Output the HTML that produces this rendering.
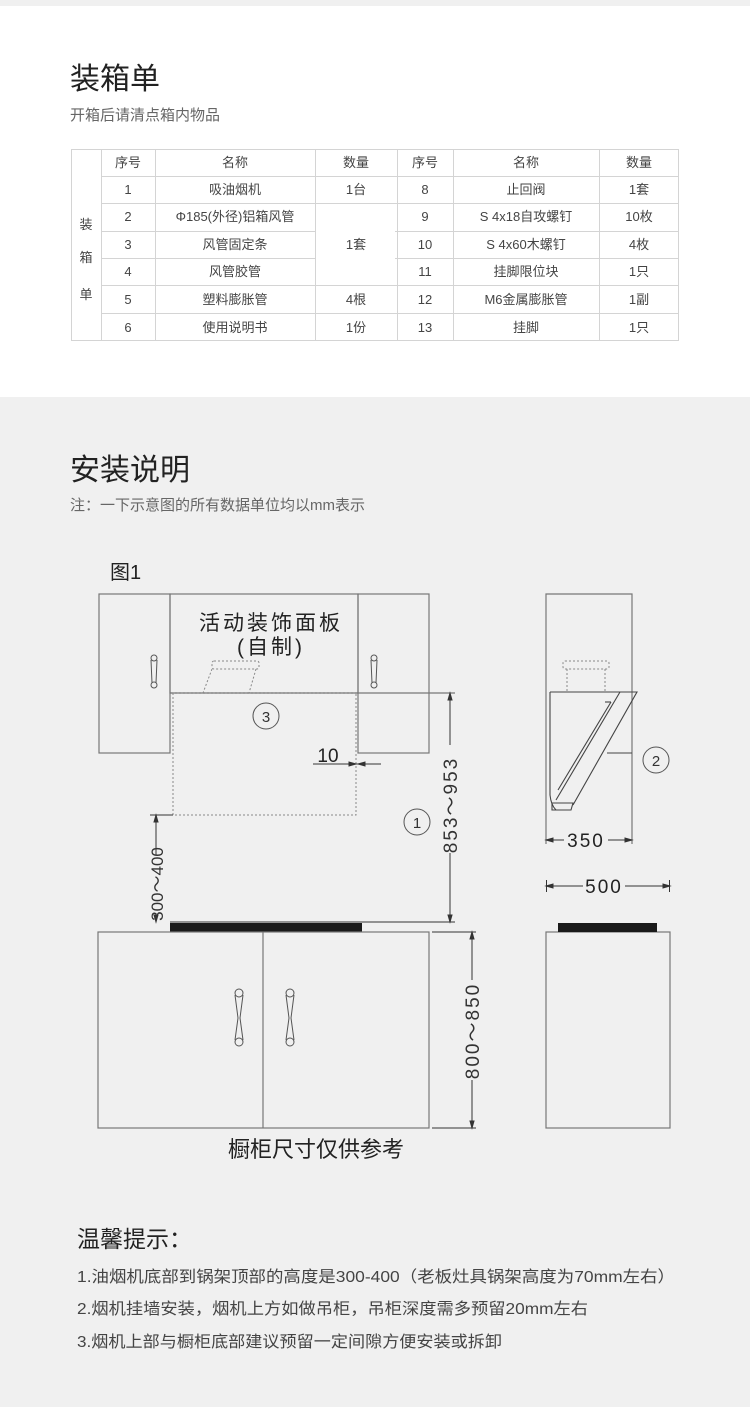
<!DOCTYPE html>
<html><head><meta charset="utf-8"><style>
html,body{margin:0;padding:0;background:#f0f0f0}
svg{display:block}
text{font-family:"Liberation Sans","Noto Sans CJK SC",sans-serif}
</style></head><body>
<svg width="750" height="1407" viewBox="0 0 750 1407" xmlns="http://www.w3.org/2000/svg">
<rect x="0" y="0" width="750" height="1407" fill="#f0f0f0"/>
<rect x="0" y="6" width="750" height="391" fill="#ffffff"/>

<text x="70" y="89" font-size="30" fill="#222">装箱单</text>
<text x="70" y="120" font-size="15" fill="#666">开箱后请清点箱内物品</text>

<g stroke="#d4d4d4" stroke-width="1" fill="none">
<line x1="71" y1="149.5" x2="679" y2="149.5"/>
<line x1="71" y1="340.5" x2="679" y2="340.5"/>
<line x1="101" y1="176.5" x2="679" y2="176.5"/>
<line x1="101" y1="203.5" x2="679" y2="203.5"/>
<line x1="101" y1="231.5" x2="315" y2="231.5"/>
<line x1="395" y1="231.5" x2="679" y2="231.5"/>
<line x1="101" y1="258.5" x2="315" y2="258.5"/>
<line x1="395" y1="258.5" x2="679" y2="258.5"/>
<line x1="101" y1="285.5" x2="679" y2="285.5"/>
<line x1="101" y1="313.5" x2="679" y2="313.5"/>
<line x1="71.5" y1="149" x2="71.5" y2="340"/>
<line x1="101.5" y1="149" x2="101.5" y2="340"/>
<line x1="155.5" y1="149" x2="155.5" y2="340"/>
<line x1="315.5" y1="149" x2="315.5" y2="340"/>
<line x1="397.5" y1="149" x2="397.5" y2="340"/>
<line x1="453.5" y1="149" x2="453.5" y2="340"/>
<line x1="599.5" y1="149" x2="599.5" y2="340"/>
<line x1="678.5" y1="149" x2="678.5" y2="340"/>
</g>
<g font-size="13" fill="#444" text-anchor="middle">
<text x="86" y="229">装</text><text x="86" y="262">箱</text><text x="86" y="299">单</text>
<text x="128" y="167">序号</text><text x="235" y="167">名称</text><text x="356" y="167">数量</text>
<text x="425" y="167">序号</text><text x="526" y="167">名称</text><text x="639" y="167">数量</text>
<text x="128" y="194">1</text><text x="235" y="194">吸油烟机</text><text x="356" y="194">1台</text>
<text x="425" y="194">8</text><text x="526" y="194">止回阀</text><text x="639" y="194">1套</text>
<text x="128" y="221">2</text><text x="235" y="221">Φ185(外径)铝箱风管</text>
<text x="425" y="221">9</text><text x="526" y="221">S 4x18自攻螺钉</text><text x="639" y="221">10枚</text>
<text x="128" y="249">3</text><text x="235" y="249">风管固定条</text><text x="356" y="249">1套</text>
<text x="425" y="249">10</text><text x="526" y="249">S 4x60木螺钉</text><text x="639" y="249">4枚</text>
<text x="128" y="276">4</text><text x="235" y="276">风管胶管</text>
<text x="425" y="276">11</text><text x="526" y="276">挂脚限位块</text><text x="639" y="276">1只</text>
<text x="128" y="304">5</text><text x="235" y="304">塑料膨胀管</text><text x="356" y="304">4根</text>
<text x="425" y="304">12</text><text x="526" y="304">M6金属膨胀管</text><text x="639" y="304">1副</text>
<text x="128" y="332">6</text><text x="235" y="332">使用说明书</text><text x="356" y="332">1份</text>
<text x="425" y="332">13</text><text x="526" y="332">挂脚</text><text x="639" y="332">1只</text>
</g>

<text x="70" y="480" font-size="30" fill="#222">安装说明</text>
<text x="70" y="510" font-size="15" fill="#666">注：一下示意图的所有数据单位均以mm表示</text>

<text x="110" y="579" font-size="20" fill="#222">图1</text>

<g stroke="#777" stroke-width="1.2" fill="none">
<rect x="99" y="594" width="71" height="159"/>
<rect x="170" y="594" width="188" height="99"/>
<rect x="358" y="594" width="71" height="159"/>
<line x1="170" y1="693" x2="455" y2="693"/>
</g>
<g stroke="#888" stroke-width="1" fill="none" stroke-dasharray="2,2">
<rect x="173" y="693" width="183" height="122"/>
<rect x="212" y="661" width="47" height="8" rx="2"/>
<line x1="212" y1="669" x2="203" y2="693"/>
<line x1="256" y1="669" x2="249" y2="693"/>
</g>
<g stroke="#555" stroke-width="1" fill="none">
<circle cx="154" cy="658" r="3"/><circle cx="154" cy="685" r="3"/>
<path d="M151,660 L152,683 M157,660 L156,683"/>
<circle cx="374" cy="658" r="3"/><circle cx="374" cy="685" r="3"/>
<path d="M371,660 L372,683 M377,660 L376,683"/>
<circle cx="239" cy="993" r="4"/><circle cx="239" cy="1042" r="4"/>
<path d="M235,995 L238,1018 L235,1040 M243,995 L240,1018 L243,1040"/>
<circle cx="290" cy="993" r="4"/><circle cx="290" cy="1042" r="4"/>
<path d="M286,995 L289,1018 L286,1040 M294,995 L291,1018 L294,1040"/>
<circle cx="266" cy="716" r="13"/>
<circle cx="417" cy="822" r="13"/>
<circle cx="656" cy="760" r="13"/>
</g>
<g font-size="15" fill="#333" text-anchor="middle">
<text x="266" y="722">3</text><text x="417" y="828">1</text><text x="656" y="766">2</text>
</g>
<text x="271" y="630" font-size="21" fill="#222" text-anchor="middle" letter-spacing="3">活动装饰面板</text>
<text x="271" y="654" font-size="21" fill="#222" text-anchor="middle" letter-spacing="3">(自制)</text>
<text x="328" y="762" font-size="19" fill="#222" text-anchor="middle">10</text>
<g stroke="#333" stroke-width="1" fill="#333">
<line x1="313" y1="764" x2="381" y2="764"/>
<path d="M356,764 l-7,-2 v4z"/><path d="M358,764 l7,-2 v4z"/>
<line x1="150" y1="815" x2="173" y2="815"/>
<line x1="156" y1="815" x2="156" y2="922"/>
<path d="M156,815 l-2,7 h4z"/><path d="M156,922 l-2,-7 h4z"/>
<line x1="450" y1="693" x2="450" y2="922"/>
<line x1="170" y1="922" x2="455" y2="922"/>
<path d="M450,693 l-2,7 h4z"/><path d="M450,922 l-2,-7 h4z"/>
<line x1="432" y1="932" x2="476" y2="932"/>
<line x1="432" y1="1128" x2="476" y2="1128"/>
<line x1="472" y1="932" x2="472" y2="1128"/>
<path d="M472,932 l-2,7 h4z"/><path d="M472,1128 l-2,-7 h4z"/>
</g>
<rect x="146" y="855" width="20" height="58" fill="#f0f0f0"/>
<text transform="translate(163,884) rotate(-90)" font-size="17" fill="#333" text-anchor="middle">300～400</text>
<rect x="440" y="745" width="20" height="108" fill="#f0f0f0"/>
<text transform="translate(457,805) rotate(-90)" font-size="19" fill="#333" text-anchor="middle" letter-spacing="2">853～953</text>
<rect x="462" y="980" width="20" height="100" fill="#f0f0f0"/>
<text transform="translate(479,1031) rotate(-90)" font-size="19" fill="#333" text-anchor="middle" letter-spacing="2">800～850</text>

<rect x="170" y="923" width="192" height="9" fill="#1a1a1a"/>
<g stroke="#777" stroke-width="1.2" fill="none">
<rect x="98" y="932" width="331" height="196"/>
<line x1="263" y1="932" x2="263" y2="1128"/>
</g>
<text x="316" y="1157" font-size="22" fill="#222" text-anchor="middle">橱柜尺寸仅供参考</text>

<g stroke="#777" stroke-width="1.2" fill="none">
<path d="M546,844 V594 H632 V844"/>
<rect x="546" y="932" width="124" height="196"/>
</g>
<g stroke="#888" stroke-width="1" fill="none" stroke-dasharray="2,2">
<rect x="563" y="661" width="46" height="8" rx="2"/>
<line x1="567" y1="669" x2="567" y2="692"/><line x1="605" y1="669" x2="605" y2="692"/>
</g>
<g stroke="#444" stroke-width="1.1" fill="none">
<path d="M550,692 H637 L573,805"/>
<path d="M550,692 V795 Q551,805 556,810"/>
<path d="M620,692 L556,800"/>
<path d="M611,702 L558,790"/>
<path d="M605,702 L611,702"/>
<path d="M552,803 H573 L571,810 H552 Z"/>
<line x1="607" y1="753" x2="632" y2="753"/>
</g>
<g stroke="#333" stroke-width="1" fill="#333">
<line x1="546" y1="840" x2="564" y2="840"/><line x1="608" y1="840" x2="632" y2="840"/>
<path d="M546,840 l7,-2 v4z"/><path d="M632,840 l-7,-2 v4z"/>
<line x1="546" y1="886" x2="583" y2="886"/><line x1="625" y1="886" x2="670" y2="886"/>
<path d="M546,886 l7,-2 v4z"/><path d="M670,886 l-7,-2 v4z"/>
<line x1="546.5" y1="880" x2="546.5" y2="892"/><line x1="669.5" y1="880" x2="669.5" y2="892"/>
</g>
<text x="586" y="847" font-size="19" fill="#222" text-anchor="middle" letter-spacing="2">350</text>
<text x="604" y="893" font-size="19" fill="#222" text-anchor="middle" letter-spacing="2">500</text>
<rect x="558" y="923" width="99" height="9" fill="#1a1a1a"/>

<text x="77" y="1247" font-size="23" fill="#222">温馨提示：</text>
<text x="77" y="1282" font-size="16" fill="#444" textLength="598" lengthAdjust="spacingAndGlyphs">1.油烟机底部到锅架顶部的高度是300-400（老板灶具锅架高度为70mm左右）</text>
<text x="77" y="1314" font-size="16" fill="#444" textLength="511" lengthAdjust="spacingAndGlyphs">2.烟机挂墙安装，烟机上方如做吊柜，吊柜深度需多预留20mm左右</text>
<text x="77" y="1347" font-size="16" fill="#444" textLength="425" lengthAdjust="spacingAndGlyphs">3.烟机上部与橱柜底部建议预留一定间隙方便安装或拆卸</text>
</svg>
</body></html>
